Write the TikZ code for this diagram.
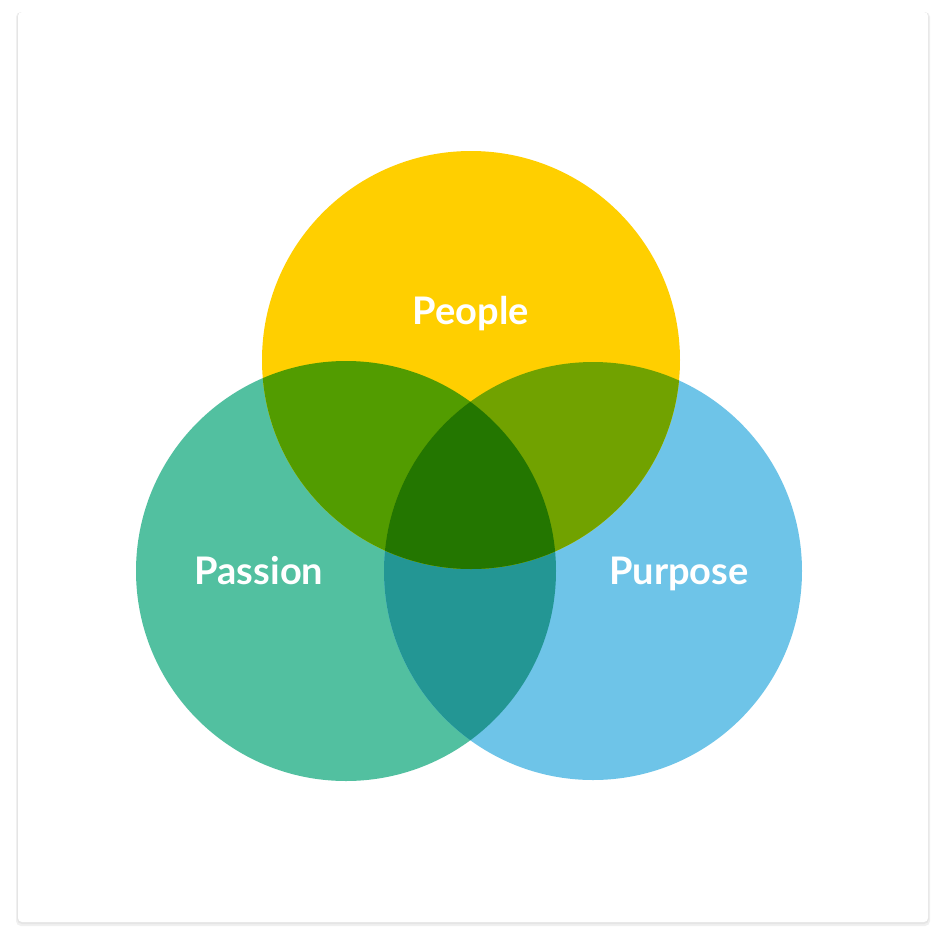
\documentclass[tikz,border=0pt]{standalone}
\usepackage{fontspec}
\setmainfont{Lato}
\definecolor{cyel}{HTML}{FFCF00}
\definecolor{cteal}{HTML}{52C0A0}
\definecolor{cblue}{HTML}{6EC4E8}
\definecolor{cyt}{HTML}{529C00}
\definecolor{cyb}{HTML}{71A200}
\definecolor{ctb}{HTML}{239694}
\definecolor{call}{HTML}{237600}
\tikzset{lbl/.style={text=white,anchor=base,font=\fontsize{38}{44}\selectfont\bfseries}}
\begin{document}
\begin{tikzpicture}[x=1pt,y=-1pt]
\useasboundingbox (0,0) rectangle (946,946);
\fill[white] (0,0) rectangle (946,946);
\fill[black!6,rounded corners=5] (16,12) rectangle (930,926);
\fill[black!10,rounded corners=5] (17,12) rectangle (929,924);
\fill[white,rounded corners=4] (18,12) rectangle (928,922);
\def\Y{(471,360) circle (209)}
\def\T{(346,571) circle (210)}
\def\B{(593,571) circle (209)}
\fill[cteal] \T;
\fill[cblue] \B;
\begin{scope}\clip \T; \fill[ctb] \B; \end{scope}
\fill[cyel] \Y;
\begin{scope}\clip \Y; \fill[cyt] \T; \fill[cyb] \B; \end{scope}
\begin{scope}\clip \Y; \clip \T; \fill[call] \B; \end{scope}
\node[lbl] (people) at (471,324) {People};
\node[lbl] (passion) at (259,584) {Passion};
\node[lbl] (purpose) at (679,584) {Purpose};
\end{tikzpicture}
\end{document}
